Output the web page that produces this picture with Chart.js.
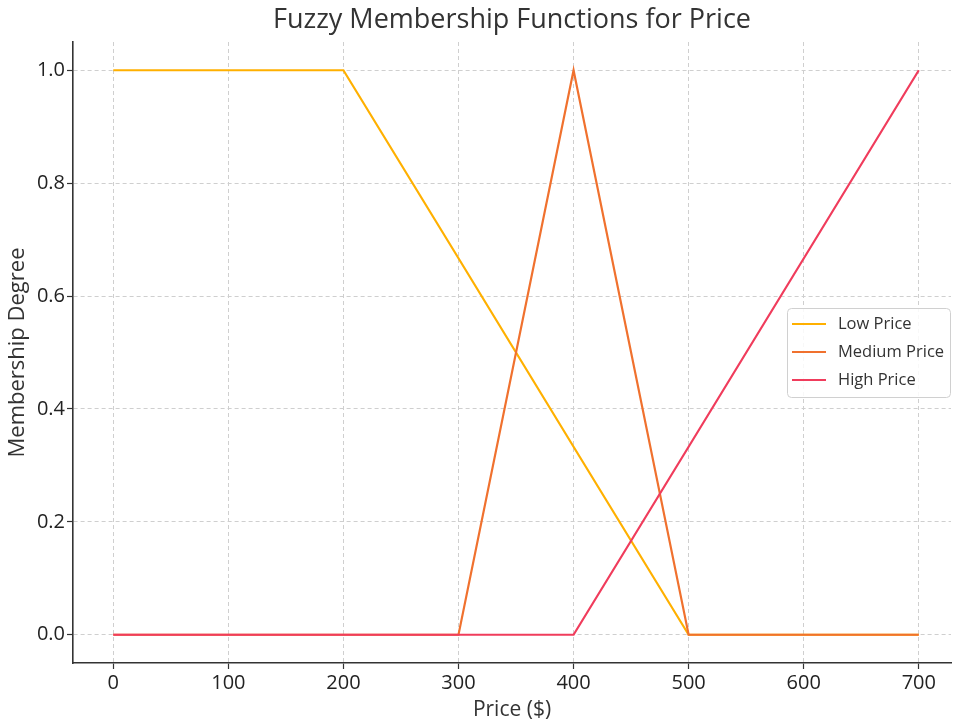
<!DOCTYPE html>
<html>
<head>
<meta charset="utf-8">
<script src="https://cdn.jsdelivr.net/npm/chart.js@4"></script>
<style>
  html, body { margin:0; padding:0; background:#fff; }
  #wrap { width:953px; height:725px; position:relative; }
</style>
</head>
<body>
<div id="wrap"><canvas id="fuzzyChart" width="953" height="725"></canvas></div>
<script>
/* ── data ─────────────────────────────── */
const prices      = [0, 200, 300, 400, 500, 700];
const lowPrice    = [1, 1, 0.667, 0.333, 0, 0];
const mediumPrice = [0, 0, 0, 1, 0, 0];
const highPrice   = [0, 0, 0, 0, 0.333, 1];
const xTicks      = [0, 100, 200, 300, 400, 500, 600, 700];
const yTicks      = [0, 0.2, 0.4, 0.6, 0.8, 1.0];
const seriesNames = ["Low Price", "Medium Price", "High Price"];
const colors      = ["#FFB000", "#F0712E", "#F03C5C"];

const FONT = "'Open Sans', 'Noto Sans', sans-serif";
const toPoints = arr => prices.map((p, i) => ({ x: p, y: arr[i] }));

// title + legend drawn by hand so they sit where the reference has them
const decorPlugin = {
  id: "decor",
  afterDraw(chart) {
    const { ctx, chartArea: a } = chart;
    ctx.save();
    ctx.fillStyle = "#333";
    ctx.font = `27px ${FONT}`;
    ctx.textAlign = "center";
    ctx.textBaseline = "middle";
    ctx.fillText("Fuzzy Membership Functions for Price", (a.left + a.right) / 2, 20);

    // legend
    const w = 163, h = 89;
    const x = a.right - w - 1, y = (a.top + a.bottom) / 2 - h / 2;
    ctx.fillStyle = "rgba(255,255,255,0.85)";
    ctx.strokeStyle = "#d0d0d0";
    ctx.lineWidth = 1;
    ctx.beginPath();
    ctx.roundRect(x + 0.5, y + 0.5, w, h, 4);
    ctx.fill();
    ctx.stroke();
    ctx.font = `16.5px ${FONT}`;
    ctx.textAlign = "left";
    chart.data.datasets.forEach((ds, i) => {
      const ry = y + 16 + i * 28;
      ctx.strokeStyle = ds.borderColor;
      ctx.lineWidth = 2.2;
      ctx.beginPath();
      ctx.moveTo(x + 5, ry);
      ctx.lineTo(x + 39, ry);
      ctx.stroke();
      ctx.fillStyle = "#333";
      ctx.fillText(ds.label, x + 51, ry);
    });
    ctx.restore();
  }
};

new Chart(document.getElementById("fuzzyChart").getContext("2d"), {
  type: "line",
  data: {
    datasets: [
      { label: seriesNames[0], data: toPoints(lowPrice),    borderColor: colors[0], order: 3 },
      { label: seriesNames[1], data: toPoints(mediumPrice), borderColor: colors[1], order: 2 },
      { label: seriesNames[2], data: toPoints(highPrice),   borderColor: colors[2], order: 1 }
    ].map(d => ({ ...d, borderWidth: 2.2, pointRadius: 0, tension: 0, fill: false }))
  },
  options: {
    responsive: false, animation: false,
    layout: { padding: { top: 42, right: 2, left: 0, bottom: 0 } },
    plugins: { legend: { display: false }, title: { display: false }, tooltip: { enabled: false } },
    scales: {
      x: {
        type: "linear", min: -35, max: 728,
        afterBuildTicks: s => { s.ticks = xTicks.map(v => ({ value: v })); },
        afterFit: s => { s.height = 62; },
        grid: { color: "#cfcfcf", lineWidth: 1, drawTicks: true, tickLength: 6, tickColor: "#333", tickWidth: 1.2, tickBorderDash: [] },
        border: { display: true, color: "#333", width: 1.6, dash: [4, 3] },
        ticks: { color: "#222", padding: 2, font: { family: FONT, size: 20 }, maxRotation: 0 },
        title: { display: true, text: "Price ($)", color: "#333", font: { family: FONT, size: 21 }, padding: { top: 0, bottom: 2 } }
      },
      y: {
        type: "linear", min: -0.05, max: 1.05,
        afterBuildTicks: s => { s.ticks = yTicks.map(v => ({ value: v })); },
        afterFit: s => { s.width = 73; },
        grid: { color: "#cfcfcf", lineWidth: 1, drawTicks: true, tickLength: 6, tickColor: "#333", tickWidth: 1.2, tickBorderDash: [] },
        border: { display: true, color: "#333", width: 1.6, dash: [4, 3] },
        ticks: { color: "#222", padding: 2, font: { family: FONT, size: 20 }, callback: v => Number(v).toFixed(1) },
        title: { display: true, text: "Membership Degree", color: "#333", font: { family: FONT, size: 22 }, padding: { top: 5, bottom: 0 } }
      }
    }
  },
  plugins: [decorPlugin]
});
</script>
</body>
</html>
